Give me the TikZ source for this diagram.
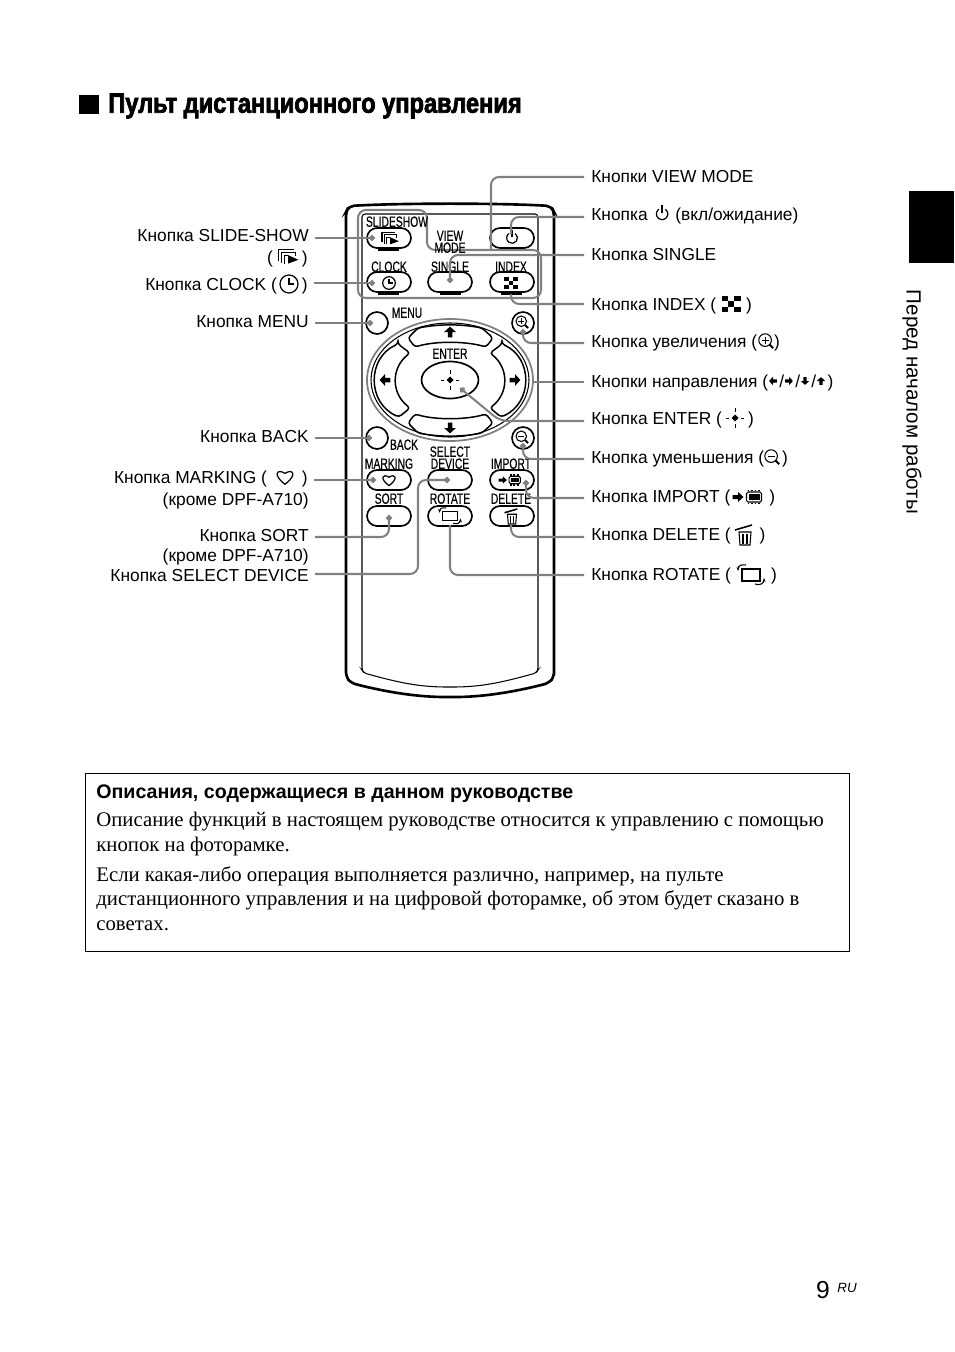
\documentclass[tikz,border=0pt]{standalone}
\usepackage{fontspec}
\setmainfont{Liberation Sans}
\newfontfamily\boxfont{Liberation Serif}
\newfontfamily\rmtfont[FakeStretch=0.70,FakeBold=0.4]{Liberation Sans}
\newfontfamily\titlefont[FakeStretch=0.845,FakeBold=2.5]{Liberation Sans Bold}
\usetikzlibrary{arrows.meta,shapes.geometric}
\definecolor{leadgray}{gray}{0.5}
\tikzset{
  leader/.style={draw=leadgray,line width=1.15pt,rounded corners=0.16cm},
  leaderdot/.style={leader,-{Circle[length=0.12cm,width=0.12cm]}},
  pill/.style={draw,line width=0.95pt,rounded corners=0.2cm,minimum width=0.88cm,minimum height=0.4cm,inner sep=0pt},
  roundbtn/.style={draw,circle,line width=0.95pt,minimum size=0.44cm,inner sep=0pt},
  rmtext/.style={font=\rmtfont\fontsize{8.4}{9}\selectfont,inner sep=0pt,text height=0.19cm,text depth=0pt},
  lblright/.style={anchor=west,inner xsep=0.14cm,inner ysep=0pt,text height=0.26cm,text depth=0.08cm,font=\fontsize{9.88}{12}\selectfont},
  lblleft/.style={anchor=east,inner xsep=0.12cm,inner ysep=0pt,text height=0.26cm,text depth=0.08cm,font=\fontsize{9.88}{12}\selectfont},
  icon/.style={line width=0.6pt},
  slideicon/.pic={
    \draw[icon] (-10,5) -- (-10,-7) -- (6,-7);%
    \draw[icon] (-7,7) -- (-7,-4) -- (8,-4) -- (8,0);%
    \draw[icon] (-4,8) -- (-4,-1) -- (0,-1);%
    \fill (0,-1) -- (11,4) -- (0,8) -- cycle;%
  },
  clockicon/.pic={
    \draw[line width=0.7pt] (0,0) circle (9);%
    \draw[line width=0.7pt] (0,-6) -- (0,0) -- (5,0);%
  },
  powericon/.pic={
    \draw[line width=0.7pt] (3.5,-5) arc (-55:235:6);%
    \draw[line width=0.7pt] (0,-9) -- (0,-1);%
  },
  indexicon/.pic={
    \fill (-9.5,-8) rectangle (9.5,8);%
    \foreach \a/\b in {-3.17/-8,-9.5/-2.67,3.17/-2.67,-3.17/2.67}
      \fill[white] (\a,\b) rectangle ++(6.33,5.33);%
  },
  zoominicon/.pic={
    \draw[line width=0.6pt] (-1,-1) circle (7);%
    \draw[line width=0.5pt] (-5,-1) -- (3,-1);%
    \draw[line width=0.5pt] (-1,-5) -- (-1,3);%
    \draw[line width=1.2pt] (4,4) -- (8,8);%
  },
  zoomouticon/.pic={
    \draw[line width=0.6pt] (-1,-1) circle (7);%
    \draw[line width=0.5pt] (-5,-1) -- (3,-1);%
    \draw[line width=1.2pt] (4,4) -- (8,8);%
  },
  blockarrow/.pic={
    \fill (0,-6) -- (6.5,0) -- (2.5,0) -- (2.5,6) -- (-2.5,6) -- (-2.5,0) -- (-6.5,0) -- cycle;%
  },
  entericon/.pic={
    \fill (0,-3.5) -- (3.5,0) -- (0,3.5) -- (-3.5,0) -- cycle;%
    \draw[line width=0.5pt] (-9,0) -- (-6,0) (6,0) -- (9,0) (0,-10) -- (0,-6) (0,6) -- (0,10);%
  },
  importicon/.pic={
    \fill (-5.5,0) -- (-11,-5) -- (-11,-2) -- (-16.5,-2) -- (-16.5,2) -- (-11,2) -- (-11,5) -- cycle;%
    \draw[line width=0.6pt,rounded corners=0.03cm] (-2.5,-5) rectangle (12.5,5);%
    \fill (-0.5,-3) rectangle (10.5,3);%
    \draw[line width=0.9pt,dash pattern=on 1pt off 1pt] (-1.5,-6.5) -- (11.5,-6.5) (-1.5,6.5) -- (11.5,6.5);%
  },
  deleteicon/.pic={
    \draw[line width=0.9pt] (-10,-7) -- (7,-12);%
    \draw[line width=0.6pt] (-6,-5) -- (-5,8) -- (5,8) -- (6,-5) -- cycle;%
    \draw[line width=0.6pt] (-2,-3) -- (-2,7) (2,-3) -- (2,7);%
  },
  rotateicon/.pic={
    \draw[line width=0.6pt] (-9,-6) rectangle (9,6);%
    \draw[line width=0.6pt,-{Stealth[length=0.08cm]}] (-5,-10) .. controls (-10,-11) and (-13,-9) .. (-13,-4);%
    \draw[line width=0.6pt,-{Stealth[length=0.08cm]}] (4,9) .. controls (9,11) and (13,8) .. (13,3);%
  },
  hearticon/.pic={
    \draw[line width=0.7pt] (0,8) .. controls (-14,-2) and (-9,-10) .. (0,-4) .. controls (9,-10) and (14,-2) .. (0,8) -- cycle;%
  }
}
\begin{document}
\begin{tikzpicture}[x=0.02cm,y=-0.02cm]
\useasboundingbox (0,0) rectangle (954,1352);%

% Drawing title and side tab
\fill (79,95) rectangle (99,114);%
\node[anchor=west,inner sep=0pt,font=\titlefont\fontsize{15.9}{18}\selectfont] (title) at (108,106) {Пульт дистанционного управления};%
\fill (909,191) rectangle (954,263);%
\node[rotate=-90,inner sep=0pt,font=\fontsize{11.7}{14}\selectfont] (sidetext) at (912,402) {Перед началом работы};%

% Drawing remote body
\draw [line width=1.5pt,rounded corners=0.1cm] (346,230) -- (346,212) -- (349,206) .. controls (400,203) and (500,203) .. (551,206) -- (554,212) -- (554,670) -- (554,677) -- (549,683) .. controls (510,693) and (480,697) .. (450,697) .. controls (420,697) and (390,693) .. (351,683) -- (346,677) -- cycle;%
\draw [line width=0.6pt,rounded corners=0.06cm] (362,214) -- (538,214) -- (538,670) -- (536,673) .. controls (500,683) and (480,687) .. (450,687) .. controls (420,687) and (400,683) .. (364,673) -- (362,670) -- cycle;%

% Drawing view mode frame
\draw [leader] (358,210) -- (427,210) -- (427,250) -- (541,250) -- (541,298) -- (358,298) -- cycle;%

% Drawing pill buttons
\node[pill] (btnslide) at (389,238) {};%
\node[pill] (btnpower) at (512,238) {};%
\node[pill] (btnclock) at (389,282) {};%
\node[pill] (btnsingle) at (450,282) {};%
\node[pill] (btnindex) at (512,282) {};%
\node[pill] (btnmarking) at (389,480) {};%
\node[pill] (btnselect) at (450,480) {};%
\node[pill] (btnimport) at (512,480) {};%
\node[pill] (btnsort) at (389,516) {};%
\node[pill] (btnrotate) at (450,516) {};%
\node[pill] (btndelete) at (512,516) {};%
\draw [line width=0.9pt] (378,250) -- (399,250);%
\draw [line width=0.9pt] (378,294) -- (399,294);%
\draw [line width=0.9pt] (440,294) -- (461,294);%
\draw [line width=0.9pt] (501,294) -- (522,294);%

% Drawing round buttons
\node[roundbtn] (btnmenu) at (377,323) {};%
\node[roundbtn] (btnback) at (377,438) {};%
\node[roundbtn] (btnzoomin) at (523,323) {};%
\node[roundbtn] (btnzoomout) at (523,438) {};%

% Drawing direction pad
\draw [draw=leadgray,line width=1pt] (450,380) ellipse (83 and 61);%
\draw [line width=0.6pt] (450,380) ellipse (79 and 57);%
\draw [line width=0.85pt,rounded corners=0.06cm] (408,338) -- (418,328) .. controls (440,324) and (460,324) .. (482,328) -- (493,338) -- (486,347) .. controls (465,341) and (435,341) .. (415,347) -- cycle;%
\draw [line width=0.85pt,rounded corners=0.06cm] (408,423) -- (418,433) .. controls (440,437) and (460,437) .. (482,433) -- (493,423) -- (486,414) .. controls (465,420) and (435,420) .. (415,414) -- cycle;%
\draw [line width=0.85pt,rounded corners=0.06cm] (398,344) -- (410,353) .. controls (391,368) and (391,393) .. (410,408) -- (399,417) .. controls (367,403) and (367,358) .. (398,344) -- cycle;%
\draw [line width=0.85pt,rounded corners=0.06cm] (502,344) -- (490,353) .. controls (509,368) and (509,393) .. (490,408) -- (501,417) .. controls (533,403) and (533,358) .. (502,344) -- cycle;%
\node[draw,ellipse,line width=0.95pt,minimum width=1.14cm,minimum height=0.74cm,inner sep=0pt] (btnenter) at (450,380) {};%
\pic[scale=0.9] at (450,332) {blockarrow};%
\pic[scale=0.9,rotate=180] at (450,428) {blockarrow};%
\pic[scale=0.9,rotate=90] at (385,380) {blockarrow};%
\pic[scale=0.9,rotate=-90] at (515,380) {blockarrow};%
\pic at (450,380) {entericon};%

% Marking icons on buttons
\pic[scale=0.8] at (390,238) {slideicon};%
\pic[scale=0.9] at (512,238) {powericon};%
\pic[scale=0.7] at (389,283) {clockicon};%
\pic[scale=0.7] at (511,283) {indexicon};%
\pic[scale=0.75] at (522,322) {zoominicon};%
\pic[scale=0.75] at (522,437) {zoomouticon};%
\pic[scale=0.7] at (389,480) {hearticon};%
\pic[scale=0.75] at (511,480) {importicon};%
\pic[scale=0.75] at (512,518) {deleteicon};%
\pic[scale=0.8] at (450,516) {rotateicon};%

% Printing button names
\node[rmtext] (txtslide) at (397,222) {SLIDESHOW};%
\node[rmtext] (txtview) at (450,236) {VIEW};%
\node[rmtext] (txtmode) at (450,248) {MODE};%
\node[rmtext] (txtclock) at (389,267) {CLOCK};%
\node[rmtext] (txtsingle) at (450,267) {SINGLE};%
\node[rmtext] (txtindex) at (511,267) {INDEX};%
\node[rmtext] (txtmenu) at (407,313) {MENU};%
\node[rmtext] (txtenter) at (450,354) {ENTER};%
\node[rmtext] (txtback) at (404,445) {BACK};%
\node[rmtext] (txtselect) at (450,452) {SELECT};%
\node[rmtext] (txtdevice) at (450,464) {DEVICE};%
\node[rmtext] (txtmarking) at (389,464) {MARKING};%
\node[rmtext] (txtimport) at (511,464) {IMPORT};%
\node[rmtext] (txtsort) at (389,499) {SORT};%
\node[rmtext] (txtrotate) at (450,499) {ROTATE};%
\node[rmtext] (txtdelete) at (511,499) {DELETE};%

% Printing left labels
\node[lblleft] (lblslide) at (315,237) {Кнопка SLIDE-SHOW};%
\node[lblleft] (lblslidesub) at (314,259) {(\hspace{0.58cm})};%
\node[lblleft] (lblclock) at (314,286) {Кнопка CLOCK (\hspace{0.5cm})};%
\node[lblleft] (lblmenu) at (315,323) {Кнопка MENU};%
\node[lblleft] (lblback) at (315,438) {Кнопка BACK};%
\node[lblleft] (lblmarking) at (314,479) {Кнопка MARKING (\hspace{0.7cm})};%
\node[lblleft] (lblmarkingsub) at (315,501) {(кроме DPF-A710)};%
\node[lblleft] (lblsort) at (315,537) {Кнопка SORT};%
\node[lblleft] (lblsortsub) at (315,557) {(кроме DPF-A710)};%
\node[lblleft] (lblselect) at (315,577) {Кнопка SELECT DEVICE};%
\pic[scale=0.95] at (288,256) {slideicon};%
\pic at (289,284) {clockicon};%
\pic[scale=0.9] at (285,477) {hearticon};%

% Printing right labels
\node[lblright] (lblview) at (584,178) {Кнопки VIEW MODE};%
\node[lblright] (lblpower) at (584,216) {Кнопка \hspace{0.36cm} (вкл/ожидание)};%
\node[lblright] (lblsingle) at (584,256) {Кнопка SINGLE};%
\node[lblright] (lblindex) at (584,306) {Кнопка INDEX (\hspace{0.6cm})};%
\node[lblright] (lblzoomin) at (584,343) {Кнопка увеличения (\hspace{0.34cm})};%
\node[lblright] (lbldirect) at (584,383) {Кнопки направления (\hspace{0.225cm}/\hspace{0.225cm}/\hspace{0.225cm}/\hspace{0.225cm})};%
\node[lblright] (lblenter) at (584,420) {Кнопка ENTER (\hspace{0.52cm})};%
\node[lblright] (lblzoomout) at (584,459) {Кнопка уменьшения (\hspace{0.36cm})};%
\node[lblright] (lblimport) at (584,498) {Кнопка IMPORT (\hspace{0.78cm})};%
\node[lblright] (lbldelete) at (584,536) {Кнопка DELETE (\hspace{0.58cm})};%
\node[lblright] (lblrotate) at (584,576) {Кнопка ROTATE (\hspace{0.8cm})};%
\pic[scale=0.95] at (662,214) {powericon};%
\pic at (731,304) {indexicon};%
\pic[scale=0.9] at (766,341) {zoominicon};%
\pic[scale=0.65,rotate=90] at (773,381) {blockarrow};%
\pic[scale=0.65,rotate=-90] at (789,381) {blockarrow};%
\pic[scale=0.65,rotate=180] at (805,381) {blockarrow};%
\pic[scale=0.65] at (821,381) {blockarrow};%
\pic at (735,418) {entericon};%
\pic[scale=0.9] at (772,457) {zoomouticon};%
\pic at (749,497) {importicon};%
\pic at (745,537) {deleteicon};%
\pic at (751,575) {rotateicon};%

% Marking leader ends
\coordinate (dotslide) at (375,238);%
\coordinate (dotclock) at (375,283);%
\coordinate (dotmenu) at (373,323);%
\coordinate (dotback) at (372,438);%
\coordinate (dotmarking) at (376,480);%
\coordinate (dotsort) at (389,515);%
\coordinate (dotselect) at (450,480);%
\coordinate (dotview) at (491,250);%
\coordinate (dotpower) at (511,234);%
\coordinate (dotsingle) at (450,283);%
\coordinate (dotindex) at (511,294);%
\coordinate (dotzoomin) at (523,329);%
\coordinate (dotdirect) at (533,382);%
\coordinate (dotenter) at (460,388);%
\coordinate (dotzoomout) at (523,443);%
\coordinate (dotimport) at (526,480);%
\coordinate (dotdelete) at (511,525);%
\coordinate (dotrotate) at (450,525);%

% Drawing left leaders
\draw [leaderdot] (lblslide.east |- dotslide) -- (dotslide);%
\draw [leaderdot] (lblclock.east |- dotclock) -- (dotclock);%
\draw [leaderdot] (lblmenu.east |- dotmenu) -- (dotmenu);%
\draw [leaderdot] (lblback.east |- dotback) -- (dotback);%
\draw [leaderdot] (lblmarking.east |- dotmarking) -- (dotmarking);%
\draw [leaderdot] (lblsort.east) -| (dotsort);%
\draw [leaderdot] (lblselect.east) ++(0,-3) -- (418,574) -- (418,480) -- (dotselect);%

% Drawing right leaders
\draw [leader] (lblview.west) ++(0,-1) -| (dotview);%
\draw [leader] (lblpower.west) ++(0,1) -| (dotpower);%
\draw [leaderdot] (lblsingle.west) ++(0,-1) -| (dotsingle);%
\draw [leader] (lblindex.west) ++(0,-2) -| (dotindex);%
\draw [leaderdot] (lblzoomin.west) -| (dotzoomin);%
\draw [leader] (lbldirect.west |- dotdirect) -- (dotdirect);%
\draw [leaderdot] (lblenter.west) ++(0,1) -- (500,421) -- (dotenter);%
\draw [leaderdot] (lblzoomout.west) -| (dotzoomout);%
\draw [leaderdot] (lblimport.west) -| (dotimport);%
\draw [leader] (lbldelete.west) ++(0,1) -| (dotdelete);%
\draw [leader] (lblrotate.west) ++(0,-1) -| (dotrotate);%

% Drawing note box
\draw [line width=0.55pt] (85,773) rectangle (849,951);%
\node[anchor=west,inner sep=0pt,font=\bfseries\fontsize{11.17}{13}\selectfont] (notehead) at (96,794) {Описания, содержащиеся в данном руководстве};%
\node[anchor=north west,inner sep=0pt,align=left,font=\boxfont\fontsize{11.82}{13.95}\selectfont] (noteone) at (96,812) {Описание функций в настоящем руководстве относится к управлению с помощью\\кнопок на фоторамке.};%
\node[anchor=north west,inner sep=0pt,align=left,font=\boxfont\fontsize{11.82}{13.95}\selectfont] (notetwo) at (96,866) {Если какая-либо операция выполняется различно, например, на пульте\\дистанционного управления и на цифровой фоторамке, об этом будет сказано в\\советах.};%

% Printing page number
\node[anchor=base,inner sep=0pt,font=\fontsize{14}{16}\selectfont] (pagenum) at (823,1298) {9};%
\node[anchor=base,inner sep=0pt,font=\itshape\fontsize{7.6}{9}\selectfont] (pagelang) at (847,1292) {RU};%
\end{tikzpicture}
\end{document}
